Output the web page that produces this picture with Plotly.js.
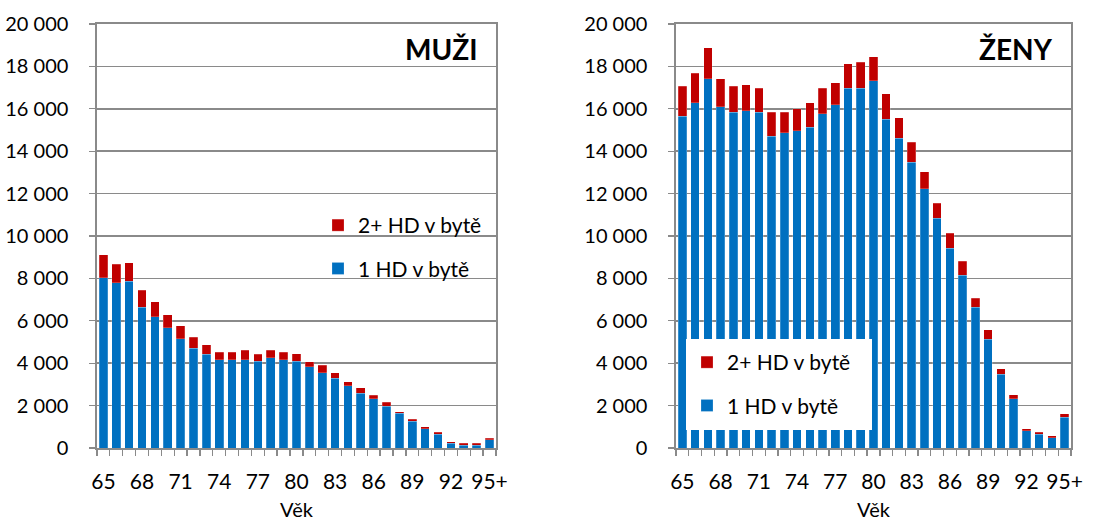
<!DOCTYPE html>
<html>
<head>
<meta charset="utf-8">
<script src="https://cdn.plot.ly/plotly-3.0.1.min.js"></script>
<style>html,body{margin:0;padding:0;background:#fff;}#chart{width:1117px;height:521px;}</style>
</head>
<body>
<div id="chart"></div>
<script>
const ages = ['65','66','67','68','69','70','71','72','73','74','75','76','77','78','79','80',
  '81','82','83','84','85','86','87','88','89','90','91','92','93','94','95+'];
const labelAges = ['65','68','71','74','77','80','83','86','89','92','95+'];

const men1HD = [8030,7790,7870,6640,6200,5680,5150,4700,4430,4170,4170,4170,4100,4250,4170,4100,
  3830,3540,3290,2940,2590,2320,1980,1630,1270,900,650,220,140,140,400];
const men2HD = [1080,870,870,790,710,600,610,520,440,350,350,450,330,370,350,340,
  250,360,270,190,260,180,170,80,90,100,90,80,80,80,70];

const women1HD = [15660,16280,17410,16100,15840,15910,15840,14700,14870,14970,15140,15760,16180,16970,16970,17330,
  15500,14620,13470,12240,10840,9430,8160,6630,5140,3470,2330,820,660,490,1450];
const women2HD = [1400,1400,1480,1310,1220,1230,1130,1140,970,1040,1140,1210,1060,1150,1230,1120,
  1200,950,960,790,700,700,660,440,430,270,180,80,80,80,160];

const name1 = '1 HD v bytě';
const name2 = '2+ HD v bytě';
const blue = '#0070C0';
const red = '#C00000';
const FONT = 'Lato, "Open Sans", sans-serif';

const barLine = {color: 'rgba(255,255,255,0.35)', width: 0.6};
const traces = [
  {type:'bar', x: ages, y: men1HD, name: name1, marker:{color: blue, line: barLine}, xaxis:'x', yaxis:'y', legend:'legend', legendgroup:'a1', legendrank: 2},
  {type:'bar', x: ages, y: men2HD, name: name2, marker:{color: red, line: barLine}, xaxis:'x', yaxis:'y', legend:'legend', legendgroup:'a2', legendrank: 1},
  {type:'bar', x: ages, y: women1HD, name: name1, marker:{color: blue, line: barLine}, xaxis:'x2', yaxis:'y2', legend:'legend2', legendgroup:'b1', legendrank: 2},
  {type:'bar', x: ages, y: women2HD, name: name2, marker:{color: red, line: barLine}, xaxis:'x2', yaxis:'y2', legend:'legend2', legendgroup:'b2', legendrank: 1}
];

const gridC = '#8a8a8a';
const tickText = ages.map(a => labelAges.includes(a) ? a : '');
function xAxis(domain, anchor) {
  return {
    domain: domain, anchor: anchor, type: 'category',
    tickmode: 'array', tickvals: ages, ticktext: tickText, tickangle: 0,
    tickson: 'boundaries', ticks: 'outside', ticklen: 6, tickcolor: gridC, tickwidth: 1.3,
    showline: true, linecolor: gridC, linewidth: 1.6, mirror: true,
    showgrid: false, zeroline: false,
    tickfont: {family: FONT, size: 21, color: '#000'},
    ticklabelstandoff: 14,
    title: {text: 'Věk', font: {family: FONT, size: 20, color: '#000'}, standoff: 14},
    range: [-0.5, 30.5], fixedrange: true
  };
}
function yAxis(anchor) {
  return {
    domain: [0.1401, 0.9539], anchor: anchor,
    range: [0, 20000], dtick: 2000, tick0: 0, tickformat: ',d',
    ticks: 'outside', ticklen: 6, tickcolor: gridC, tickwidth: 1.3,
    showline: true, linecolor: gridC, linewidth: 1.6, mirror: true,
    showgrid: true, gridcolor: gridC, gridwidth: 1.6, zeroline: false,
    tickfont: {family: FONT, size: 20, color: '#000'},
    ticklabelstandoff: 17, fixedrange: true
  };
}

const layout = {
  width: 1117, height: 521,
  margin: {l: 0, r: 0, t: 0, b: 0},
  paper_bgcolor: '#fff', plot_bgcolor: '#fff',
  separators: ', ',
  barmode: 'stack', bargap: 0.33,
  showlegend: true,
  font: {family: FONT, color: '#000'},
  xaxis: xAxis([0.0868, 0.4440], 'y'),
  yaxis: yAxis('x'),
  xaxis2: xAxis([0.6052, 0.9588], 'y2'),
  yaxis2: yAxis('x2'),
  legend: {
    x: 318/1117, y: (521 - 205)/521, xanchor: 'left', yanchor: 'top',
    bgcolor: 'rgba(0,0,0,0)', borderwidth: 0,
    font: {family: FONT, size: 21, color: '#000'},
    traceorder: 'grouped', tracegroupgap: 13
  },
  legend2: {
    x: 687/1117, y: (521 - 342)/521, xanchor: 'left', yanchor: 'top',
    bgcolor: 'rgba(0,0,0,0)', borderwidth: 0,
    font: {family: FONT, size: 21, color: '#000'},
    traceorder: 'grouped', tracegroupgap: 13
  },
  shapes: [
    {type: 'rect', xref: 'paper', yref: 'paper', layer: 'above',
     x0: 686/1117, x1: 872/1117, y0: (521-430)/521, y1: (521-339)/521,
     fillcolor: '#fff', line: {width: 0}}
  ],
  annotations: [
    {text: '<b>MUŽI</b>', xref: 'x domain', yref: 'y domain', x: 0.96, y: 0.941,
     xanchor: 'right', yanchor: 'middle', showarrow: false,
     font: {family: FONT, size: 28, color: '#000'}},
    {text: '<b>ŽENY</b>', xref: 'x2 domain', yref: 'y2 domain', x: 0.96, y: 0.941,
     xanchor: 'right', yanchor: 'middle', showarrow: false,
     font: {family: FONT, size: 28, color: '#000'}}
  ]
};

Plotly.newPlot('chart', traces, layout, {staticPlot: true, displayModeBar: false});
</script>
</body>
</html>
